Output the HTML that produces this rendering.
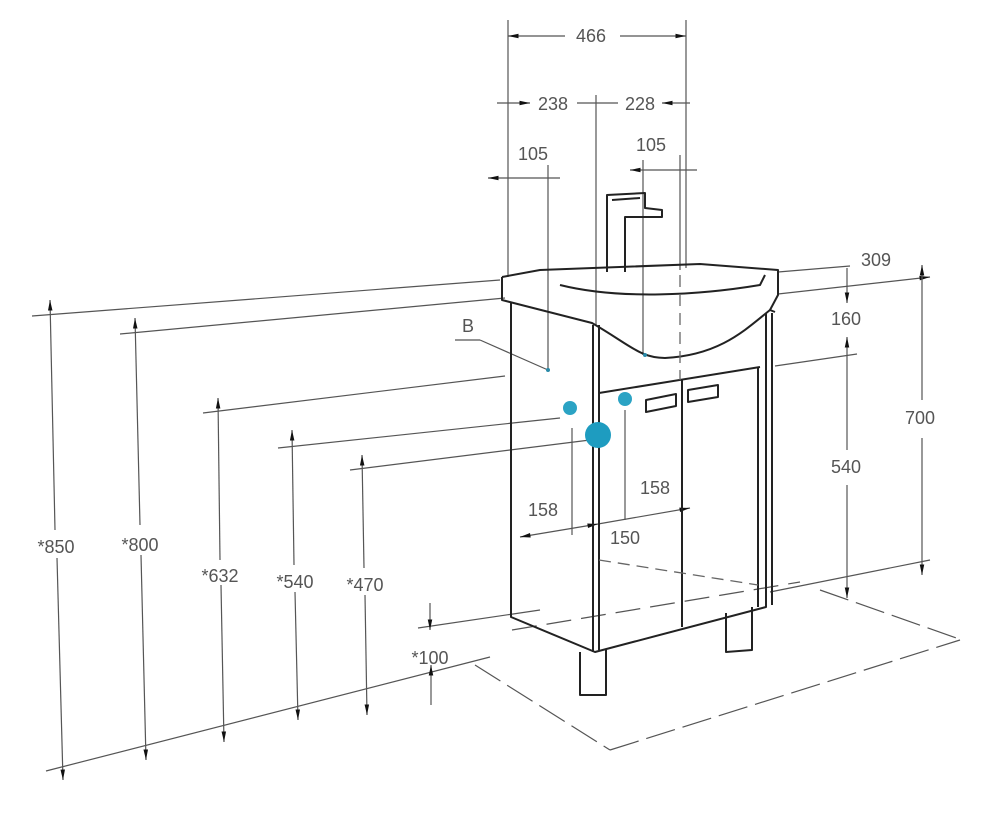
<!DOCTYPE html>
<html><head><meta charset="utf-8"><style>
html,body{margin:0;padding:0;background:#fff;}
svg{display:block}
text{font-family:"Liberation Sans",sans-serif;font-size:18px;fill:#555;text-anchor:middle}
</style></head><body>
<svg width="1000" height="840" viewBox="0 0 1000 840">
<defs>
<marker id="a" viewBox="0 0 14 8" refX="14" refY="4" markerWidth="12" markerHeight="6" markerUnits="userSpaceOnUse" orient="auto-start-reverse"><path d="M0,1 L14,4 L0,7z" fill="#111"/></marker>
</defs>
<g stroke="#555" stroke-width="1.2" fill="none">
<line x1="508" y1="20" x2="508" y2="277"/>
<line x1="686" y1="20" x2="686" y2="268"/>
<line x1="508" y1="36" x2="565" y2="36" marker-start="url(#a)"/>
<line x1="620" y1="36" x2="686" y2="36" marker-end="url(#a)"/>
<line x1="497" y1="103" x2="530" y2="103" marker-end="url(#a)"/>
<line x1="577" y1="103" x2="618" y2="103"/>
<line x1="662" y1="103" x2="690" y2="103" marker-start="url(#a)"/>
<line x1="596" y1="95" x2="596" y2="325"/>
<line x1="488" y1="178" x2="560" y2="178" marker-start="url(#a)"/>
<line x1="548" y1="165" x2="548" y2="370"/>
<line x1="630" y1="170" x2="697" y2="170" marker-start="url(#a)"/>
<line x1="643" y1="160" x2="643" y2="355"/>
<line x1="680" y1="155" x2="680" y2="270"/>
<line x1="32" y1="316" x2="500" y2="280"/>
<line x1="120" y1="334" x2="505" y2="298"/>
<line x1="203" y1="413" x2="505" y2="376"/>
<line x1="278" y1="448" x2="560" y2="418"/>
<line x1="350" y1="470" x2="590" y2="440"/>
<line x1="418" y1="628" x2="540" y2="610"/>
<line x1="46" y1="771" x2="490" y2="657"/>
<line x1="50" y1="300" x2="55" y2="530" marker-start="url(#a)"/>
<line x1="57" y1="558" x2="63" y2="780" marker-end="url(#a)"/>
<line x1="135" y1="318" x2="140" y2="525" marker-start="url(#a)"/>
<line x1="141" y1="555" x2="146" y2="760" marker-end="url(#a)"/>
<line x1="218" y1="398" x2="220" y2="560" marker-start="url(#a)"/>
<line x1="221" y1="585" x2="224" y2="742" marker-end="url(#a)"/>
<line x1="292" y1="430" x2="294" y2="565" marker-start="url(#a)"/>
<line x1="295" y1="592" x2="298" y2="720" marker-end="url(#a)"/>
<line x1="362" y1="455" x2="364" y2="568" marker-start="url(#a)"/>
<line x1="365" y1="595" x2="367" y2="715" marker-end="url(#a)"/>
<line x1="430" y1="603" x2="430" y2="630" marker-end="url(#a)"/>
<line x1="431" y1="705" x2="431" y2="665" marker-end="url(#a)"/>
<line x1="475" y1="665" x2="610" y2="750" stroke-dasharray="30 8"/>
<line x1="610" y1="750" x2="960" y2="640" stroke-dasharray="30 8"/>
<line x1="820" y1="590" x2="962" y2="640" stroke-dasharray="30 8"/>
<line x1="770" y1="592" x2="930" y2="560"/>
<line x1="512" y1="630" x2="800" y2="582" stroke-dasharray="25 10"/>
<line x1="778" y1="272" x2="850" y2="266"/>
<line x1="778" y1="294" x2="930" y2="277" marker-end="url(#a)"/>
<line x1="775" y1="366" x2="857" y2="354"/>
<line x1="922" y1="265" x2="922" y2="400" marker-start="url(#a)"/>
<line x1="922" y1="438" x2="922" y2="575" marker-end="url(#a)"/>
<line x1="847" y1="268" x2="847" y2="303" marker-end="url(#a)"/>
<line x1="847" y1="337" x2="847" y2="450" marker-start="url(#a)"/>
<line x1="847" y1="485" x2="847" y2="598" marker-end="url(#a)"/>
<line x1="520" y1="537" x2="598" y2="524" marker-start="url(#a)" marker-end="url(#a)"/>
<line x1="598" y1="524" x2="690" y2="508" marker-end="url(#a)"/>
<line x1="572" y1="428" x2="572" y2="535"/>
<line x1="625" y1="410" x2="625" y2="520"/>
<line x1="455" y1="340" x2="480" y2="340"/>
<line x1="480" y1="340" x2="548" y2="370"/>
</g>
<g stroke="#222" stroke-width="2" fill="none" stroke-linejoin="round">
<path d="M502,277 L540,270 L700,264 L778,270 L778,295 L770,310 L775,312"/>
<path d="M502,277 L502,300 L592,323 C630,345 640,358 665,358 C720,355 745,330 770,310"/>
<path d="M560,285 C620,300 700,295 760,285 L765,275"/>
<path d="M511,303 L511,617 L595,652 L766,607 L766,313"/>
<line x1="772" y1="313" x2="772" y2="605"/>
<line x1="593" y1="325" x2="593" y2="652"/>
<line x1="599" y1="325" x2="599" y2="650"/>
<path d="M599,393 L760,367"/>
<line x1="682" y1="380" x2="682" y2="627"/>
<line x1="758" y1="368" x2="758" y2="607"/>
<path d="M646,400 L676,394 L676,406 L646,412 Z"/>
<path d="M688,390 L718,385 L718,397 L688,402 Z"/>
<path d="M580,652 L580,695 L606,695 L606,650"/>
<path d="M726,613 L726,652 L752,650 L752,607"/>
<path d="M607,272 L607,195 L645,193 L645,208 L662,210 L662,217 L625,217 L625,272"/>
<path d="M612,200 L640,198"/>
</g>
<g stroke="#666" stroke-width="1.3" fill="none" stroke-dasharray="12 7">
<line x1="680" y1="275" x2="680" y2="380"/>
<line x1="599" y1="560" x2="758" y2="585"/>
</g>
<circle cx="548" cy="370" r="2" fill="#2a8aa8"/>
<circle cx="645" cy="355" r="2" fill="#2a8aa8"/>
<circle cx="570" cy="408" r="7" fill="#2ba3c4"/>
<circle cx="625" cy="399" r="7" fill="#2ba3c4"/>
<circle cx="598" cy="435" r="13" fill="#1e9cc0"/>
<text x="591" y="42">466</text>
<text x="553" y="110">238</text>
<text x="640" y="110">228</text>
<text x="533" y="160">105</text>
<text x="651" y="151">105</text>
<text x="876" y="266">309</text>
<text x="846" y="325">160</text>
<text x="920" y="424">700</text>
<text x="846" y="473">540</text>
<text x="468" y="332">B</text>
<text x="543" y="516">158</text>
<text x="655" y="494">158</text>
<text x="625" y="544">150</text>
<text x="56" y="553">*850</text>
<text x="140" y="551">*800</text>
<text x="220" y="582">*632</text>
<text x="295" y="588">*540</text>
<text x="365" y="591">*470</text>
<text x="430" y="664">*100</text>
</svg>
</body></html>
